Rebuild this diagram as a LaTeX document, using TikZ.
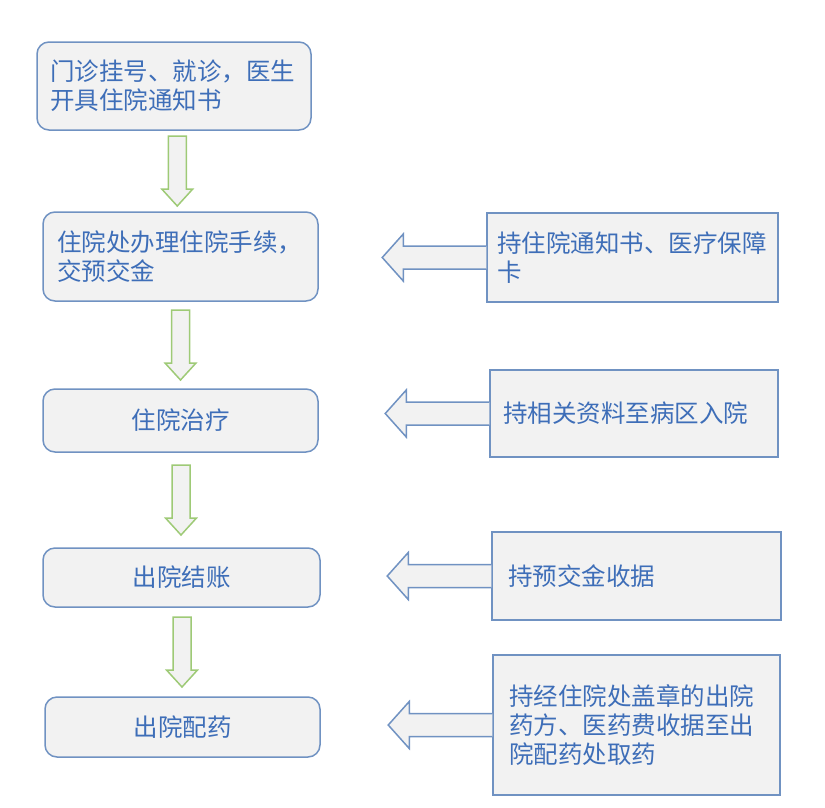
\documentclass[tikz,border=0pt]{standalone}
\usepackage{fontspec}
\newfontfamily\cjk{Noto Sans CJK SC}
\usetikzlibrary{calc}
\definecolor{boxfill}{RGB}{242,242,242}
\definecolor{boxline}{RGB}{112,146,194}
\definecolor{boxtext}{RGB}{62,110,184}
\definecolor{arrowgreen}{RGB}{158,202,118}

\tikzset{
  stepbox/.style={draw=boxline, fill=boxfill, line width=1.5pt, rounded corners=12pt,
    text=boxtext, font=\cjk\fontsize{24.5}{29}\selectfont, inner xsep=14pt, inner ysep=0pt},
  notebox/.style={draw=boxline, fill=boxfill, line width=1.5pt,
    text=boxtext, font=\cjk\fontsize{24.5}{29}\selectfont, inner xsep=12pt, inner ysep=0pt},
  greenarrow/.style={draw=arrowgreen, fill=boxfill, line width=1.5pt, line join=miter},
  grayarrow/.style={draw=boxline, fill=boxfill, line width=1.5pt, line join=miter},
  pics/downarr/.style={code={
    \filldraw[greenarrow] (-9,-35) -- (9,-35) -- (9,18) -- (15.5,18) -- (0,35)
      -- (-15.5,18) -- (-9,18) -- cycle;}},
  pics/leftarr/.style={code={
    \filldraw[grayarrow] (0,-11.5) -- (-83,-11.5) -- (-83,-23.5) -- (-104,0)
      -- (-83,23.5) -- (-83,11.5) -- (0,11.5);}}
}

\begin{document}
\begin{tikzpicture}[x=1pt, y=-1pt]
    \useasboundingbox (0,0) rectangle (825,807);

    % steps on the left
    \node[stepbox, minimum width=274pt, minimum height=88pt, text width=248pt, align=left, inner xsep=13pt]
      (visit) at (174,86) {门诊挂号、就诊，医生\\开具住院通知书};
    \node[stepbox, minimum width=275pt, minimum height=89pt, text width=247pt, align=left]
      (admit) at (180.5,256.5) {住院处办理住院手续，\\交预交金};
    \node[stepbox, minimum width=275pt, minimum height=63pt]
      (treat) at (180.5,420.5) {住院治疗};
    \node[stepbox, minimum width=277pt, minimum height=59pt]
      (bill) at (181.5,577.5) {出院结账};
    \node[stepbox, minimum width=275pt, minimum height=60pt]
      (drugs) at (182.5,727) {出院配药};

    % what to bring, on the right
    \node[notebox, minimum width=291pt, minimum height=89pt, text width=271pt, align=left, inner xsep=10pt]
      (needadmit) at (632.5,257.5) {持住院通知书、医疗保障\\卡};
    \node[notebox, minimum width=288pt, minimum height=87pt, text width=262pt, align=left, inner xsep=13pt]
      (needtreat) at (634,413.5) {持相关资料至病区入院};
    \node[notebox, minimum width=289pt, minimum height=88pt, text width=257pt, align=left, inner xsep=16pt]
      (needbill) at (636.5,576) {持预交金收据};
    \node[notebox, minimum width=287pt, minimum height=140pt, text width=255pt, align=left, inner xsep=16pt]
      (needdrugs) at (636.5,725) {持经住院处盖章的出院\\药方、医药费收据至出\\院配药处取药};

    % flow downwards
    \pic at ($(visit.south)!0.5!(admit.north)$) {downarr};
    \pic at ($(admit.south)!0.5!(treat.north)$) {downarr};
    \pic at ($(treat.south)!0.5!(bill.north)$) {downarr};
    \pic at ($(bill.south)!0.5!(drugs.north)$) {downarr};

    % requirements point to the steps
    \pic at (needadmit.west) {leftarr};
    \pic at (needtreat.west) {leftarr};
    \pic at (needbill.west) {leftarr};
    \pic at (needdrugs.west) {leftarr};
\end{tikzpicture}
\end{document}
